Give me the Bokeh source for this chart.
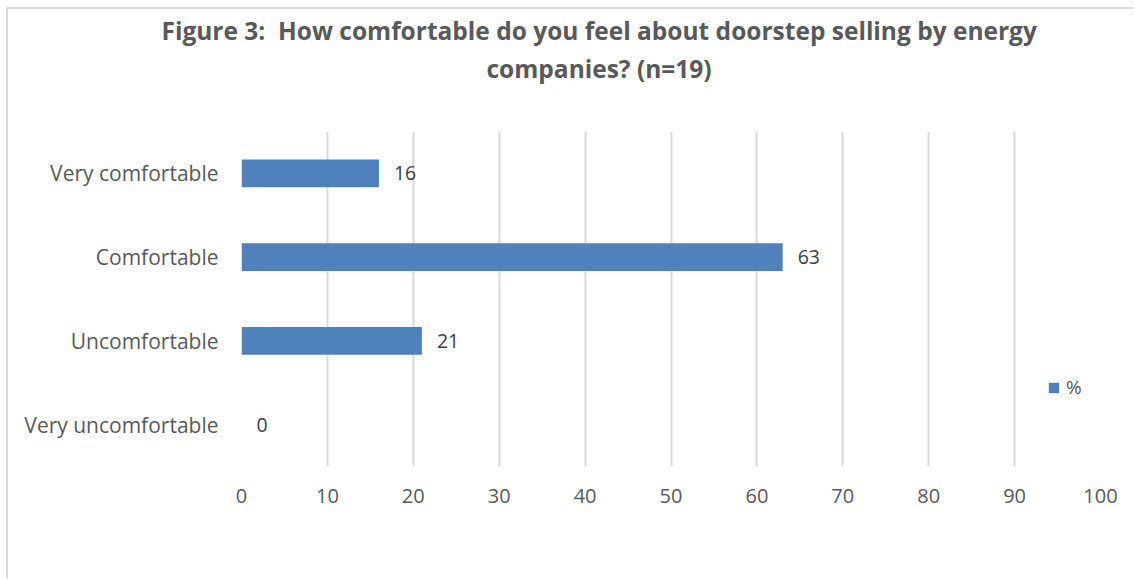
from bokeh.plotting import figure
from bokeh.models import ColumnDataSource, Title, Legend, LegendItem, FixedTicker, Range1d
from bokeh.core.properties import value
from bokeh.embed import file_html
from bokeh.resources import INLINE

categories = ["Very uncomfortable", "Uncomfortable", "Comfortable", "Very comfortable"]
values = [0, 21, 63, 16]
ticks = [0, 10, 20, 30, 40, 50, 60, 70, 80, 90, 100]
title_line1 = "Figure 3:\u00a0 How comfortable do you feel about doorstep selling by energy"
title_line2 = "companies? (n=19)"
series_name = "%"

FONT = "Open Sans"
BAR = "#4f81bd"
TXT = "#595959"

src = ColumnDataSource(dict(cat=categories, val=values, lab=[str(v) for v in values]))

p = figure(width=1127, height=571, y_range=categories, x_range=Range1d(0, 100),
           output_backend="svg", toolbar_location=None,
           min_border_left=233, min_border_right=35, min_border_top=121, min_border_bottom=114,
           styles={"margin-left": "6px", "margin-top": "7px", "border-left": "2px solid #d9d9d9",
                   "border-top": "2px solid #d9d9d9"})
p.outline_line_color = None
p.background_fill_color = "white"

r = p.hbar(y="cat", right="val", left=0, height=0.33, source=src, fill_color=BAR, line_color=None)
p.text(x="val", y="cat", text="lab", source=src, x_offset=15, text_align="left",
       text_baseline="middle", text_font=value(FONT), text_font_size="19.5px", text_color="#404040")

p.xaxis.ticker = FixedTicker(ticks=ticks)
for ax in (p.xaxis[0], p.yaxis[0]):
    ax.axis_line_color = None
    ax.major_tick_line_color = None
    ax.minor_tick_line_color = None
    ax.major_tick_out = 0
    ax.major_tick_in = 0
    ax.major_label_text_font = FONT
    ax.major_label_text_color = TXT
p.xaxis.major_label_text_font_size = "20px"
p.yaxis.major_label_text_font_size = "21px"
p.xaxis.major_label_standoff = 22
p.yaxis.major_label_standoff = 23

p.xgrid.ticker = FixedTicker(ticks=ticks)
p.xgrid.grid_line_color = "#d9d9d9"
p.xgrid.grid_line_width = 2
p.ygrid.grid_line_color = None

spacer = Title(text=" ", align="left", standoff=42, text_font=FONT, text_font_size="2px",
               text_color="white")
t2 = Title(text=title_line2, align="left", offset=245, standoff=0, text_font=FONT,
           text_font_size="24.5px", text_font_style="bold", text_color=TXT)
t1 = Title(text=title_line1, align="left", offset=-80, standoff=5, text_font=FONT,
           text_font_size="24.5px", text_font_style="bold", text_color=TXT)
p.add_layout(spacer, "above")
p.add_layout(t2, "above")
p.add_layout(t1, "above")

legend = Legend(items=[LegendItem(label=series_name, renderers=[r])], location=(806, 66),
                border_line_color=None, background_fill_alpha=0, padding=0, margin=0,
                glyph_width=13, glyph_height=13, label_text_font=FONT, label_text_font_size="19px",
                label_text_color=TXT, label_standoff=6)
p.add_layout(legend)

open("out.html", "w").write(file_html(p, INLINE))
